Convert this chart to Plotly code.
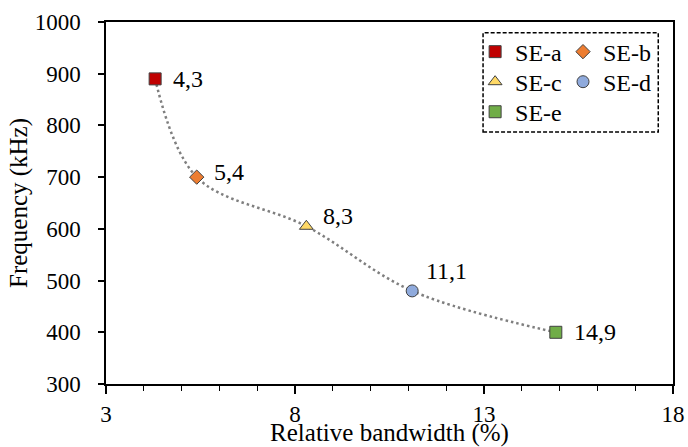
import plotly.graph_objects as go

names = ["SE-a", "SE-b", "SE-c", "SE-d", "SE-e"]
bandwidth = [4.3, 5.4, 8.3, 11.1, 14.9]
frequency = [890, 700, 605, 480, 400]
point_labels = ["4,3", "5,4", "8,3", "11,1", "14,9"]

symbols = ["square", "diamond", "triangle-up", "circle", "square"]
colors = ["#C00000", "#ED7D31", "#FFD966", "#8FAADC", "#70AD47"]
sizes = [12, 11, 12, 12, 12]
label_shift = [(16, 0), (15, 5), (15, 10), (12, 20), (16, 0)]

# legend layout: one legend per entry (column x, row y in paper coords)
legend_ids = ["legend", "legend2", "legend3", "legend4", "legend5"]
legend_pos = [(0.651, 0.917), (0.806, 0.917), (0.651, 0.834), (0.806, 0.834), (0.651, 0.751)]

FONT = "Liberation Serif"

fig = go.Figure()
fig.add_trace(go.Scatter(
    x=bandwidth, y=frequency, mode="lines",
    line=dict(color="#7F7F7F", width=2.5, dash="2.5px,3px", shape="spline", smoothing=1.0),
    showlegend=False, hoverinfo="skip"))

legends = {}
for i, n in enumerate(names):
    fig.add_trace(go.Scatter(
        x=[bandwidth[i]], y=[frequency[i]], mode="markers", name=n,
        marker=dict(symbol=symbols[i], size=sizes[i], color=colors[i],
                    line=dict(color="#404040", width=1)),
        legend=legend_ids[i]))
    fig.add_annotation(x=bandwidth[i], y=frequency[i], text=point_labels[i],
                       showarrow=False, xanchor="left", yanchor="middle",
                       xshift=label_shift[i][0], yshift=label_shift[i][1],
                       font=dict(family=FONT, size=24, color="black"))
    legends[legend_ids[i]] = dict(x=legend_pos[i][0], y=legend_pos[i][1],
                                  xanchor="left", yanchor="middle", orientation="v",
                                  font=dict(family=FONT, size=24, color="black"),
                                  bgcolor="rgba(0,0,0,0)", itemsizing="trace")

axis_font = dict(family=FONT, size=23, color="black")
fig.update_layout(
    width=688, height=447,
    margin=dict(l=106, r=15, t=22, b=63),
    paper_bgcolor="white", plot_bgcolor="white",
    font=dict(family=FONT, color="black"),
    xaxis=dict(range=[3, 18], tick0=3, dtick=5, ticks="outside", ticklen=8,
               tickcolor="black", tickwidth=1.5, automargin=False,
               minor=dict(ticks="outside", ticklen=5, dtick=1, tickcolor="black", tickwidth=1.2),
               showline=True, linecolor="black", linewidth=1.5, mirror=True,
               showgrid=False, zeroline=False, tickfont=axis_font, ticklabelstandoff=1,
               title=dict(text="Relative bandwidth (%)", font=dict(family=FONT, size=25), standoff=3)),
    yaxis=dict(range=[300, 1000], dtick=100, ticks="outside", ticklen=6,
               tickcolor="black", tickwidth=1.5, automargin=False,
               showline=True, linecolor="black", linewidth=1.5, mirror=True,
               showgrid=False, zeroline=False, tickfont=axis_font,
               ticklabelstandoff=13,
               title=dict(text="Frequency (kHz)", font=dict(family=FONT, size=25), standoff=0)),
    xaxis2=dict(overlaying="x", anchor="y", side="bottom", range=[3, 18], tick0=3, dtick=5,
                ticks="inside", ticklen=5, tickcolor="black", tickwidth=1.5,
                minor=dict(ticks="inside", ticklen=5, dtick=1, tickcolor="black", tickwidth=1.2),
                showticklabels=False, showline=False, showgrid=False, zeroline=False),
    yaxis2=dict(overlaying="y", anchor="x", side="left", range=[300, 1000], dtick=100,
                ticks="inside", ticklen=6, tickcolor="black", tickwidth=1.5,
                showticklabels=False, showline=False, showgrid=False, zeroline=False),
    shapes=[dict(type="rect", xref="paper", yref="paper",
                 x0=0.665, x1=0.974, y0=0.696, y1=0.970,
                 line=dict(color="black", width=1.5, dash="4px,2px"),
                 fillcolor="rgba(0,0,0,0)")],
    **legends,
)

fig.write_html("out.html", config={"displayModeBar": False},
               post_script="document.body.style.margin='0';")
